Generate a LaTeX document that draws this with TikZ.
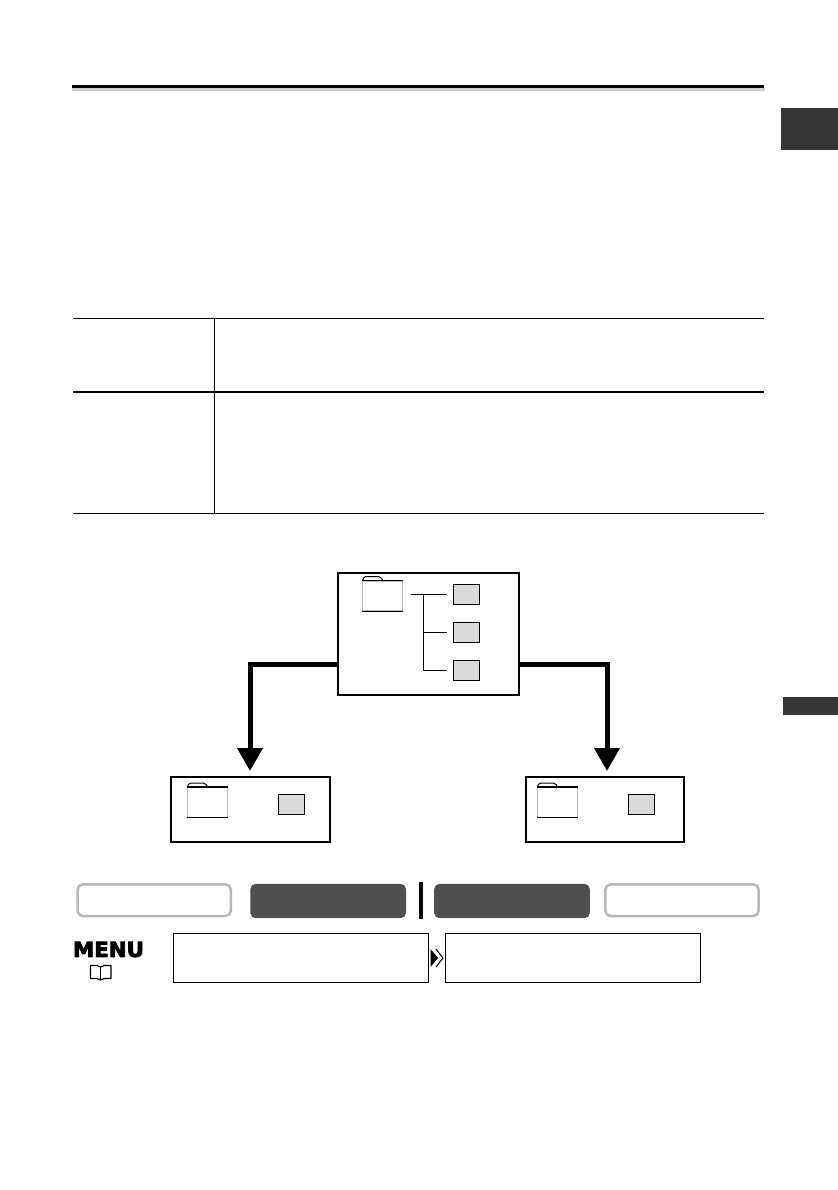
\documentclass[tikz,border=0pt]{standalone}
\usepackage{fontspec}
\usepackage{graphicx}
\usetikzlibrary{arrows.meta}
\newfontfamily\menufont{DejaVu Sans}[BoldFeatures={FakeBold=4}]
\definecolor{darkmode}{gray}{0.31}
\definecolor{lightmode}{gray}{0.72}
\definecolor{tabgray}{gray}{0.21}
\definecolor{filegray}{gray}{0.85}
\tikzset{
    bigbox/.style = {draw = black, line width = 0.06cm, inner sep = 0pt},
    filebox/.style = {draw = black, line width = 0.03cm, fill = filegray, inner sep = 0pt,
        minimum width = 0.78cm, minimum height = 0.6cm},
    folderbox/.style = {draw = lightmode, line width = 0.03cm, inner sep = 0pt,
        minimum width = 1.2cm, minimum height = 0.89cm},
    menubox/.style = {draw = black, line width = 0.03cm, inner sep = 0pt,
        minimum width = 7.66cm, minimum height = 1.47cm},
    modeoff/.style = {draw = lightmode, line width = 0.075cm, rounded corners = 0.16cm, inner sep = 0pt,
        minimum width = 4.6cm, minimum height = 0.95cm},
    modeon/.style = {fill = darkmode, rounded corners = 0.16cm, inner sep = 0pt,
        minimum width = 4.67cm, minimum height = 1.03cm},
    branch/.style = {line width = 0.03cm},
    bigarrow/.style = {line width = 0.15cm, -{Triangle[width = 0.74cm, length = 0.69cm]}}
}
% one folder: node for the body, tab and dark edges on top
\newcommand{\folderpic}[1]{
    \draw[line width = 0.045cm] (#1.north west) -- (#1.north east);
    \draw[line width = 0.03cm] (#1.south west) -- (#1.south east);
    \draw[line width = 0.03cm, rounded corners = 0.05cm] ([xshift = 0.03cm]#1.north west) -- ++(1,-4) -- ++(17,0) -- ++(2,4);
}
\begin{document}
\begin{tikzpicture}[x = 0.03cm, y = -0.03cm]
    \useasboundingbox (0,0) rectangle (838,1190);

    % title rule and side tabs
    \fill[black!20] (72,88) rectangle (765,91);
    \fill[black] (72,85) rectangle (764,88);
    \fill[tabgray] (781,108) rectangle (838,150);
    \fill[tabgray] (783,697) rectangle (838,715);

    % table rules
    \draw[line width = 0.045cm] (73,318.5) -- (764,318.5);
    \draw[line width = 0.045cm] (73,392) -- (764,392);
    \draw[line width = 0.045cm] (73,513.5) -- (764,513.5);
    \draw[line width = 0.045cm] (214.5,318.5) -- (214.5,513.5);

    % upper box
    \node[bigbox, minimum width = 5.43cm, minimum height = 3.645cm] (mainbox) at (428.5,634.2) {};
    \node[folderbox] (mainfolder) at (382.2,596) {};
    \folderpic{mainfolder}
    \node[filebox] (file1) at (466.4,594.4) {};
    \node[filebox] (file2) at (466.4,632.4) {};
    \node[filebox] (file3) at (466.4,670.4) {};
    \coordinate (fork) at (423.5,594.4);
    \draw[branch, shorten <= 0.24cm, shorten >= 0.18cm] (mainfolder.east |- file1) -- (file1.west);
    \draw[branch, shorten >= 0.18cm] (fork) |- (file2.west);
    \draw[branch, shorten >= 0.18cm] (fork) |- (file3.west);

    % lower boxes
    \node[bigbox, minimum width = 4.755cm, minimum height = 1.935cm] (leftbox) at (250.7,809.7) {};
    \node[folderbox] (leftfolder) at (207,802.5) {};
    \folderpic{leftfolder}
    \node[filebox] (leftfile) at (291.5,804.9) {};
    \node[bigbox, minimum width = 4.74cm, minimum height = 1.935cm] (rightbox) at (605,809.7) {};
    \node[folderbox] (rightfolder) at (557,802.5) {};
    \folderpic{rightfolder}
    \node[filebox] (rightfile) at (641,804.9) {};

    % thick arrows
    \coordinate (leftout) at (mainbox.west |- 0,664);
    \coordinate (rightout) at (mainbox.east |- 0,664);
    \coordinate (lefttip) at (250,771);
    \coordinate (righttip) at (607,771);
    \draw[bigarrow] (leftout) -| (lefttip);
    \draw[bigarrow] (rightout) -| (righttip);

    % mode buttons
    \node[modeoff] (mode1) at (154.2,900.2) {};
    \node[modeon] (mode2) at (328.2,901) {};
    \node[modeon] (mode3) at (512,901) {};
    \node[modeoff] (mode4) at (682,900.2) {};
    \fill[black] (419,882) rectangle (422.5,919);

    % menu line
    \node[inner sep = 0pt] (menulabel) at (108.5,949.5) {\resizebox{2.13cm}{0.45cm}{\menufont\bfseries MENU}};
    \node[menubox] (menu1) at (301,957.8) {};
    \node[menubox] (menu2) at (572.9,957.8) {};
    \fill[black] (430.5,949) -- (438,958) -- (430.5,967) -- cycle;
    \draw[line width = 0.03cm] (436,949) -- (443,958) -- (436,967);

    % book
    \draw[line width = 0.035cm] (100.5,967) -- (97,965.5) -- (90.5,965.5) -- (90.5,978.5) -- (97,978.5) -- (100.5,980) -- (104,978.5) -- (111,978.5) -- (111,965.5) -- (104,965.5) -- cycle;
    \draw[line width = 0.035cm] (100.5,967) -- (100.5,980);
\end{tikzpicture}
\end{document}
